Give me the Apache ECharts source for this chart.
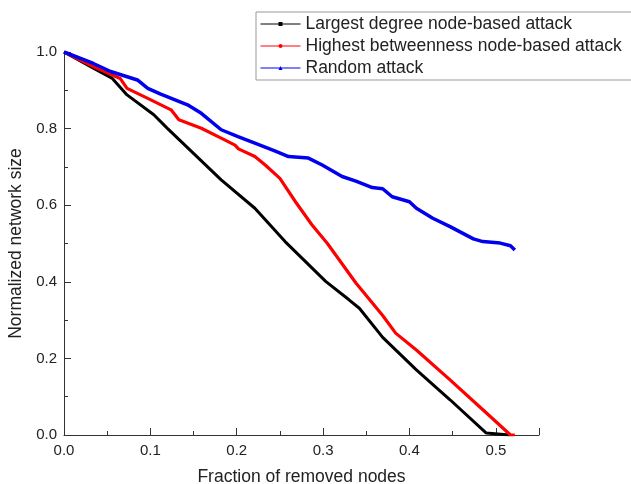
<!DOCTYPE html>
<html>
<head>
<meta charset="utf-8">
<title>Attack robustness</title>
<script src="https://cdn.jsdelivr.net/npm/echarts@6/dist/echarts.min.js"></script>
<style>
  html, body { margin: 0; padding: 0; background: #fff; }
  #chart { width: 631px; height: 484px; }
</style>
</head>
<body>
<div id="chart"></div>
<script>
// [fraction of removed nodes, normalized network size]
const degreeAttack = [
  [0, 1.0], [0.034, 0.958], [0.056, 0.931], [0.073, 0.888], [0.104, 0.836],
  [0.12, 0.80], [0.182, 0.666], [0.221, 0.592], [0.256, 0.505], [0.303, 0.401],
  [0.33, 0.353], [0.342, 0.331], [0.369, 0.255], [0.408, 0.170], [0.447, 0.092],
  [0.489, 0.005], [0.491, 0], [0.516, 0]
]
const betweennessAttack = [
  [0, 1.0], [0.034, 0.962], [0.065, 0.931], [0.073, 0.905], [0.097, 0.879],
  [0.124, 0.849], [0.133, 0.823], [0.159, 0.801], [0.182, 0.775], [0.198, 0.757],
  [0.202, 0.747], [0.221, 0.727], [0.233, 0.705], [0.25, 0.670], [0.268, 0.609],
  [0.287, 0.549], [0.305, 0.50], [0.338, 0.397], [0.369, 0.312], [0.384, 0.266],
  [0.408, 0.222], [0.447, 0.144], [0.485, 0.066], [0.517, 0], [0.522, 0]
]
const randomAttack = [
  [0, 1.0], [0.034, 0.970], [0.054, 0.949], [0.085, 0.927], [0.097, 0.905],
  [0.112, 0.89], [0.143, 0.862], [0.159, 0.84], [0.182, 0.797], [0.2015, 0.779],
  [0.221, 0.762], [0.244, 0.742], [0.26, 0.727], [0.283, 0.723], [0.299, 0.705],
  [0.322, 0.675], [0.338, 0.663], [0.357, 0.646], [0.369, 0.643], [0.38, 0.622],
  [0.40, 0.609], [0.408, 0.592], [0.427, 0.566], [0.447, 0.544], [0.474, 0.512],
  [0.485, 0.505], [0.505, 0.501], [0.517, 0.494], [0.522, 0.483]
]
const seriesNames = [
  'Largest degree node-based attack',
  'Highest betweenness node-based attack',
  'Random attack'
]

const font = 'Liberation Sans, Arial, sans-serif'
const axisColor = '#333'

const chart = echarts.init(document.getElementById('chart'))

const axisCommon = {
  type: 'value',
  axisLine: { show: true, onZero: false, lineStyle: { color: axisColor, width: 1 } },
  axisTick: { show: true, inside: true, length: 7, lineStyle: { color: axisColor } },
  minorTick: { show: true, splitNumber: 2, length: 4, lineStyle: { color: axisColor } },
  splitLine: { show: false },
  nameLocation: 'middle',
  nameTextStyle: { fontFamily: font, fontSize: 17.5, color: '#222' }
}

const options = {
  animation: false,
  backgroundColor: '#fff',
  // fixed plot box, no automatic shrinking to fit the axis names
  grid: { left: 64, right: 92, top: 52, bottom: 49, containLabel: false, outerBoundsMode: 'none' },
  legend: {
    orient: 'vertical',
    left: 256,
    top: 12,
    // wide right padding: the box runs off the right edge like the original
    padding: [3, 14, 3, 4],
    itemGap: 4,
    itemWidth: 40,
    itemHeight: 5,
    borderColor: '#999',
    borderWidth: 1,
    lineStyle: { width: 1 },
    textStyle: { fontFamily: font, fontSize: 17.5, color: '#222' },
    data: seriesNames
  },
  xAxis: Object.assign({}, axisCommon, {
    min: 0,
    max: 0.55,
    interval: 0.1,
    name: 'Fraction of removed nodes',
    nameGap: 33,
    axisLabel: {
      showMaxLabel: false,
      margin: 8,
      fontFamily: font,
      fontSize: 15,
      color: '#222',
      formatter: v => v.toFixed(1)
    }
  }),
  yAxis: Object.assign({}, axisCommon, {
    min: 0,
    max: 1,
    interval: 0.2,
    name: 'Normalized network size',
    nameGap: 38,
    axisLabel: {
      margin: 7,
      fontFamily: font,
      fontSize: 15,
      color: '#222',
      formatter: v => v.toFixed(1)
    }
  }),
  series: [
    {
      name: seriesNames[0],
      type: 'line',
      data: degreeAttack,
      symbol: 'rect',
      showSymbol: false,
      color: '#000',
      lineStyle: { width: 3, color: '#000' }
    },
    {
      name: seriesNames[1],
      type: 'line',
      data: betweennessAttack,
      symbol: 'circle',
      showSymbol: false,
      color: '#ff0000',
      lineStyle: { width: 3.2, color: '#ff0000' }
    },
    {
      name: seriesNames[2],
      type: 'line',
      data: randomAttack,
      symbol: 'triangle',
      showSymbol: false,
      color: '#0000ee',
      lineStyle: { width: 3.5, color: '#0000ee' }
    }
  ]
}

chart.setOption(options)
</script>
</body>
</html>
